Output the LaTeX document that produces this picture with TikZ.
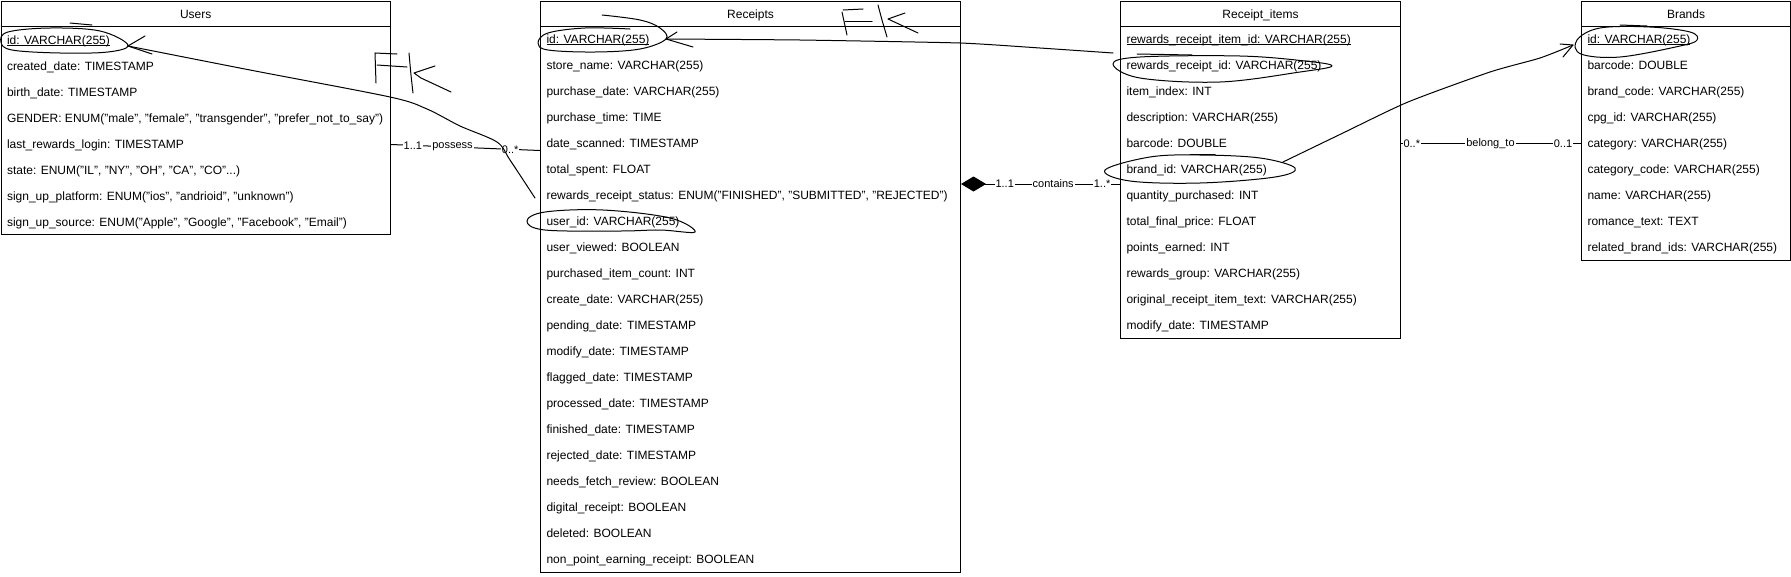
\documentclass[tikz,border=0pt]{standalone}
\usepackage{fontspec}
\setmainfont{Liberation Sans}
\usetikzlibrary{calc,arrows.meta}
\newcommand\ulintext[1]{\setbox0\hbox{#1}\rlap{\rule[-1.4pt]{\wd0}{0.8pt}}\box0}
\newcommand\tdots{...}
\begin{document}
\begin{tikzpicture}[x=1pt,y=-1pt,line width=1pt,
  tblbox/.style={draw,anchor=north west,inner sep=0pt,minimum width=#1},
  hdrtxt/.style={font=\fontsize{12}{14}\selectfont,inner sep=0pt,anchor=base},
  rowtxt/.style={font=\fontsize{12}{14}\selectfont,inner sep=0pt,anchor=base west},
  lbl/.style={font=\fontsize{11}{13}\selectfont,fill=white,inner sep=1pt},
  hand/.style={line width=1pt,line join=round,line cap=round}]
\useasboundingbox (0,0) rectangle (1791,576);

% ---------- Users ----------
\node[tblbox=389.5,minimum height=233.5] (users) at (0.5,0.5) {};
\draw ($(users.north west)+(0,26)$) -- ($(users.north east)+(0,26)$);
\node[hdrtxt] (usersT) at ($(users.north)+(0,17.5)$) {Users};
\foreach \t [count=\i from 0] in {
  {\ulintext{id: VARCHAR(255)}},
  {created\_date: TIMESTAMP},
  {birth\_date: TIMESTAMP},
  {GENDER: ENUM("male", "female", "transgender", "prefer\_not\_to\_say")},
  {last\_rewards\_login: TIMESTAMP},
  {state: ENUM("IL", "NY", "OH", "CA", "CO"\tdots)},
  {sign\_up\_platform: ENUM("ios", "andrioid", "unknown")},
  {sign\_up\_source: ENUM("Apple", "Google", "Facebook", "Email")}}
  \node[rowtxt] (u\i) at ($(users.north west)+(6,43.8+26*\i)$) {\t};

% ---------- Receipts ----------
\node[tblbox=420,minimum height=571.5] (rec) at (540,0.5) {};
\draw ($(rec.north west)+(0,26)$) -- ($(rec.north east)+(0,26)$);
\node[hdrtxt] (recT) at ($(rec.north)+(0,17.5)$) {Receipts};
\foreach \t [count=\i from 0] in {
  {\ulintext{id: VARCHAR(255)}},
  {store\_name: VARCHAR(255)},
  {purchase\_date: VARCHAR(255)},
  {purchase\_time: TIME},
  {date\_scanned: TIMESTAMP},
  {total\_spent: FLOAT},
  {rewards\_receipt\_status: ENUM("FINISHED", "SUBMITTED", "REJECTED")},
  {user\_id: VARCHAR(255)},
  {user\_viewed: BOOLEAN},
  {purchased\_item\_count: INT},
  {create\_date: VARCHAR(255)},
  {pending\_date: TIMESTAMP},
  {modify\_date: TIMESTAMP},
  {flagged\_date: TIMESTAMP},
  {processed\_date: TIMESTAMP},
  {finished\_date: TIMESTAMP},
  {rejected\_date: TIMESTAMP},
  {needs\_fetch\_review: BOOLEAN},
  {digital\_receipt: BOOLEAN},
  {deleted: BOOLEAN},
  {non\_point\_earning\_receipt: BOOLEAN}}
  \node[rowtxt] (r\i) at ($(rec.north west)+(6,43.3+26*\i)$) {\t};

% ---------- Receipt_items ----------
\node[tblbox=280,minimum height=337.5] (items) at (1120,0.5) {};
\draw ($(items.north west)+(0,26)$) -- ($(items.north east)+(0,26)$);
\node[hdrtxt] (itemsT) at ($(items.north)+(0,17.5)$) {Receipt\_items};
\foreach \t [count=\i from 0] in {
  {\ulintext{rewards\_receipt\_item\_id: VARCHAR(255)}},
  {rewards\_receipt\_id: VARCHAR(255)},
  {item\_index: INT},
  {description: VARCHAR(255)},
  {barcode: DOUBLE},
  {brand\_id: VARCHAR(255)},
  {quantity\_purchased: INT},
  {total\_final\_price: FLOAT},
  {points\_earned: INT},
  {rewards\_group: VARCHAR(255)},
  {original\_receipt\_item\_text: VARCHAR(255)},
  {modify\_date: TIMESTAMP}}
  \node[rowtxt] (it\i) at ($(items.north west)+(6,43.3+26*\i)$) {\t};

% ---------- Brands ----------
\node[tblbox=209,minimum height=259.5] (brands) at (1581,0.5) {};
\draw ($(brands.north west)+(0,26)$) -- ($(brands.north east)+(0,26)$);
\node[hdrtxt] (brandsT) at ($(brands.north)+(0,17.5)$) {Brands};
\foreach \t [count=\i from 0] in {
  {\ulintext{id: VARCHAR(255)}},
  {barcode: DOUBLE},
  {brand\_code: VARCHAR(255)},
  {cpg\_id: VARCHAR(255)},
  {category: VARCHAR(255)},
  {category\_code: VARCHAR(255)},
  {name: VARCHAR(255)},
  {romance\_text: TEXT},
  {related\_brand\_ids: VARCHAR(255)}}
  \node[rowtxt] (b\i) at ($(brands.north west)+(6,43.3+26*\i)$) {\t};

% ---------- relations ----------
\coordinate (ua) at ($(users.north east)+(0,144)$);
\coordinate (ra) at ($(rec.north west)+(0,150)$);
\draw (ua) -- node[lbl,pos=0.147]{1..1} node[lbl,pos=0.413]{possess} node[lbl,pos=0.8]{0..*} (ra);

\coordinate (rb) at ($(rec.north east)+(0,183.5)$);
\coordinate (ib) at ($(items.north west)+(0,183.5)$);
\draw[{Diamond[length=25pt,width=15pt]}-] (rb) -- node[lbl,pos=0.275]{1..1} node[lbl,pos=0.58]{contains} node[lbl,pos=0.8875]{1..*} (ib);

\coordinate (ic) at ($(items.north east)+(0,143)$);
\coordinate (bc) at ($(brands.north west)+(0,143)$);
\draw (ic) -- node[lbl,pos=0.06]{0..*} node[lbl,pos=0.497]{belong\_to} node[lbl,pos=0.9]{0..1} (bc);

% ---------- hand-drawn annotations ----------
% Users id ellipse and arrow
\draw[hand] (70,23) -- (92,25);
\draw[hand] plot[smooth cycle,tension=0.6] coordinates {(128,45) (108,52) (60,53) (12,50) (1,42) (8,32) (50,28) (100,31)};
\draw[hand] (145,36) -- (128,46) -- (152,54);
\draw[hand] plot[smooth,tension=0.5] coordinates {(128,46) (250,70) (390,97) (427,109) (460,126) (497,142) (510,160) (535,198)};
% FK near Users
\draw[hand] (375,53) -- (376,83);
\draw[hand] (375,53) -- (397,54);
\draw[hand] (377,65) -- (407,67);
\draw[hand] plot[smooth] coordinates {(409,53) (411,75) (413,93)};
\draw[hand] (435,66) -- (414,73) -- (421,78) -- (451,92);
% Receipts id ellipse and arrow
\draw[hand] plot[smooth,tension=0.6] coordinates {(602,15) (640,20) (660,28) (666,39) (640,49) (595,52) (548,50) (538,43) (548,33) (585,28) (630,29)};
\draw[hand] (677,32) -- (666,39) -- (693,47);
\draw[hand] plot[smooth,tension=0.3] coordinates {(666,39) (800,40) (960,43) (1040,48) (1113,53)};
% FK near Receipts
\draw[hand] (842,12) -- (847,35);
\draw[hand] (843,10) -- (863,9);
\draw[hand] (845,21) -- (872,21);
\draw[hand] plot[smooth] coordinates {(878,5) (882,20) (887,37)};
\draw[hand] (905,13) -- (888,19) -- (918,33);
% Receipts user_id ellipse
\draw[hand] plot[smooth cycle,tension=0.6] coordinates {(527,221) (545,212) (603,210) (670,218) (695,232) (660,230) (620,231) (545,230)};
% Receipt_items rewards_receipt_id ellipse
\draw[hand] (1137,54) -- (1192,55);
\draw[hand] plot[smooth cycle,tension=0.6] coordinates {(1113,64) (1140,57) (1240,56) (1305,61) (1332,66) (1300,72) (1220,82) (1140,78)};
% brand_id ellipse
\draw[hand] (1190,154) -- (1215,154);
\draw[hand] plot[smooth cycle,tension=0.6] coordinates {(1105,170) (1150,157) (1200,155) (1260,158) (1295,168) (1275,177) (1200,183) (1130,181)};
% arrow from brand_id to Brands id
\draw[hand] plot[smooth,tension=0.4] coordinates {(1283,162) (1343,133) (1408,102) (1490,72) (1540,58) (1573,45)};
\draw[hand] (1560,44) -- (1573,45) -- (1563,57);
% Brands id ellipse
\draw[hand] (1620,25) -- (1647,26);
\draw[hand] plot[smooth cycle,tension=0.6] coordinates {(1577,40) (1600,28) (1650,27) (1690,32) (1697,40) (1680,46) (1620,57) (1581,54)};
\end{tikzpicture}
\end{document}
